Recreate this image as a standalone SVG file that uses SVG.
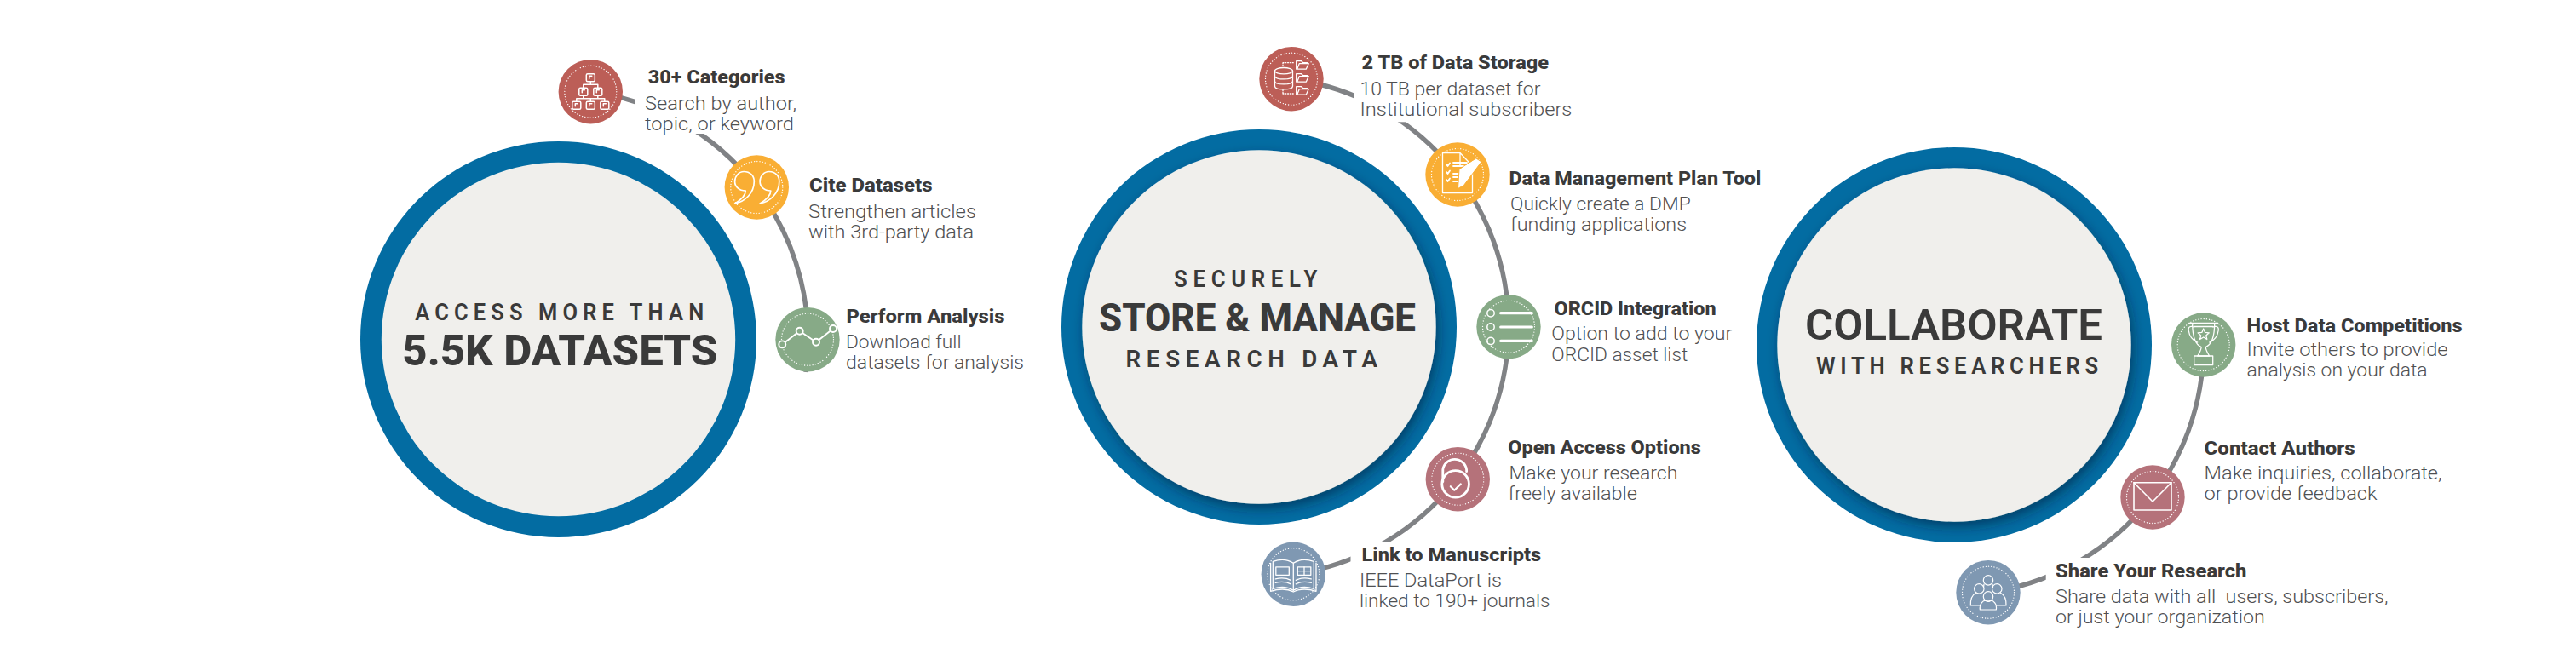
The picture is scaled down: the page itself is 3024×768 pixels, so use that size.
<svg xmlns="http://www.w3.org/2000/svg" width="3024" height="768" viewBox="0 0 3024 768">
<style>
text{font-family:Roboto,"Liberation Sans",sans-serif;white-space:pre}
.t{font-size:22px;font-weight:800;fill:#3a3a3a}
.s{font-size:22px;font-weight:300;fill:#4f5052}
.h{font-weight:600;fill:#3a3a3a;font-size:27px}
.b{font-weight:800;fill:#3a3a3a;font-size:50px}
.ring{fill:#036ca2}
.core{fill:#f0efec}
.dot{fill:none;stroke:#fff;stroke-width:1.3;stroke-linecap:round;stroke-dasharray:.1 3.1}
.i{fill:none;stroke:#fff;stroke-width:1.5;stroke-linejoin:round;stroke-linecap:round}
.arc{fill:none;stroke:#808285;stroke-width:5.5}
.mask{fill:#fff}
.red{fill:#bc5e57}.yel{fill:#f9ae34}.grn{fill:#87aa87}.ros{fill:#b5727a}.blu{fill:#7f98b2}
</style>
<defs>
<filter id="sh" x="-20%" y="-20%" width="140%" height="140%"><feDropShadow dx="3" dy="6" stdDeviation="7" flood-color="#00213a" flood-opacity=".55"/></filter>
<g id="tree" class="i" stroke-width="1.2">
<rect x="-5" y="-21" width="10" height="9" rx="1.5"/><rect x="-13.5" y="-4.5" width="10" height="9" rx="1.5"/><rect x="3.5" y="-4.5" width="10" height="9" rx="1.5"/>
<rect x="-21.5" y="11.5" width="10" height="9" rx="1.5"/><rect x="-5" y="11.5" width="10" height="9" rx="1.5"/><rect x="11.5" y="11.5" width="10" height="9" rx="1.5"/>
<path d="M0-12V-8.500M-8.500-4.500V-8.500H8.500V-4.500M-8.500 4.500V8H8.500V4.500M0 8V11.500M-16.500 11.500V8H16.500V11.500"/>
<path d="M-1.500-18.500H1.500M-1.500-18.500V-15.500M-10-2H-7M-10-2V1M7-2H10M7-2V1M-18 14H-15M-18 14V17M-1.500 14H1.500M-1.500 14V17M15 14H18M15 14V17"/>
</g>
<path id="q" d="M-25.700 19C-14 17-3 7-3-7C-3-14-8-18.500-15-18.500C-21-18.500-25.700-13-25.700-7C-25.700-.5-20.500 4-13 4C-13 9-19 15-25.700 19Z"/>
<g id="quotes" class="i" style="stroke-width:1.7"><use href="#q"/><use href="#q" x="29.500"/></g>
<g id="chart" class="i" style="stroke-width:1.9"><path d="M-29.700 5.700L-9.300-10L10 3L30-12.700"/><g style="fill:#87aa87"><circle cx="-29.700" cy="5.700" r="4"/><circle cx="-9.300" cy="-10" r="4"/><circle cx="10" cy="3" r="4"/><circle cx="30" cy="-12.700" r="4"/></g></g>
<g id="fold"><path d="M-7-5H-1L1-3H6M-7-5V4.500H4.500L7.500-2H-3.500L-6 4.500"/></g>
<g id="db" class="i" style="stroke-width:1.3">
<ellipse cx="-9" cy="-9.500" rx="10.500" ry="3.700"/><path d="M-19.500-9.500V8.500C-19.500 13.500 1.500 13.500 1.500 8.500V-9.500M-19.500-3.500C-19.500 1.500 1.500 1.500 1.500-3.500M-19.500 2.500C-19.500 7.500 1.500 7.500 1.500 2.500"/>
<use href="#fold" x="12.700" y="-16"/><use href="#fold" x="12.700" y="-1"/><use href="#fold" x="12.700" y="14"/>
<path stroke-dasharray="1 1.800" d="M-10-19H3M-10-19V-14M-10 17.300H3M-10 13V17.300"/>
</g>
<g id="doc" class="i" style="stroke-width:1.3">
<path d="M-17.500-25.500H3L17.500-10V21.500H-17.500ZM3-25.500V-10H17.500"/>
<path style="stroke-width:1.8" d="M-13-12L-11.500-10L-9-13.500M-13-3L-11.500-1L-9-4.500M-13 6L-11.500 8L-9 4.500M-5-14H11M-5-10H9M-5-1H5M-5 3H3M-5 8H0"/>
<path style="fill:#fff;stroke:#f9ae34;stroke-width:1" d="M22-19L28-15L7.500 12.500L.5 16.500L2-6Z"/>
</g>
<g id="list" class="i">
<g style="stroke-width:1.5"><circle cx="-21" cy="-16" r="4.200"/><circle cx="-21" cy=".3" r="4.200"/><circle cx="-21" cy="16.700" r="4.200"/></g>
<path style="stroke-width:3.200" d="M-9.300-16H27.300M-9.300 .3H27.300M-9.300 16.700H27.300"/>
</g>
<g id="lock" class="i">
<circle cx="-2.700" cy="5.700" r="15.800" style="stroke-width:2.800"/>
<path style="stroke-width:2.800" d="M-17.500 3V-11A14 14 0 0 1 10.300-11V-9"/>
<path style="stroke-width:2.200" d="M-8.500 8.500L-4 13L3.500 5.700"/>
</g>
<g id="book" class="i" style="stroke-width:1.300">
<path d="M-24-15C-15-18-6-17 0-13C6-17 15-18 24-15V17C15 14 6 15 0 19C-6 15-15 14-24 17Z"/>
<path d="M-26.700-13V20C-17 17-7 17 0 20.700C7 17 17 17 26.700 20V-13M0-13V19"/>
<rect x="-20.500" y="-8.500" width="15.500" height="9.500"/><rect x="5" y="-8.500" width="15.500" height="9.500"/>
<path d="M12.700-8.500V1M5-3.700H20.500M-21 5.500C-14 4-8 4.500-3 7M-21 10C-14 8.500-8 9-3 11.500M21 5.500C14 4 8 4.500 3 7M21 10C14 8.500 8 9 3 11.500"/>
</g>
<g id="trophy" class="i" style="stroke-width:1.300">
<path d="M-17-25.500H17M-13-25.500C-13-8-9 0-2.500 2.500C-3 7-5 10-7 13M13-25.500C13-8 9 0 2.500 2.500C3 7 5 10 7 13M-7 13H7M-11-21C-11-21-18.500-24-17.500-17C-16.500-10-12-5-7-3M11-21C11-21 18.500-24 17.500-17C16.500-10 12-5 7-3M-11-21.500H11"/>
<rect x="-11" y="13" width="22" height="10.500"/>
<path d="M0-19L1.900-14.600L6.600-14.200L3-11.100L4.100-6.500L0-9L-4.100-6.500L-3-11.100L-6.600-14.200L-1.900-14.600Z"/>
</g>
<g id="mail" class="i" style="stroke-width:1.600"><rect x="-22" y="-17.300" width="44" height="32.300"/><path d="M-22-17.300L0 5L22-17.300"/></g>
<g id="people" class="i" style="stroke-width:1.200">
<circle cx="0" cy="-14.300" r="5.700"/><circle cx="-10.700" cy="-4.300" r="5.700"/><circle cx="10.300" cy="-4.300" r="5.700"/><circle cx="0" cy="4.700" r="5.700"/>
<path d="M-9.700 20.300C-10.500 13-6 9.500-3 9.500C-1 11 1 11 3 9.500C6 9.500 10.500 13 9.300 20.300Z"/>
<path d="M-9.700 15.300H-20.700C-21 9-19 3-14.500 .5M9.700 15.300H21C21.300 9 19 3 14.500 .5M-5 -9.500L-5.500-6M5-9.500L5.500-6"/>
</g>
</defs>

<g id="connectors">
<path class="arc" d="M693.300 107.700A293.500 293.500 0 0 1 946 437"/>
<path class="arc" d="M1516 92.700A293.500 293.500 0 0 1 1518.300 674.300"/>
<path class="arc" d="M2586.700 405A293 293 0 0 1 2334 695.700"/>
</g>

<g id="hub-access">
<circle class="ring" cx="655.500" cy="398.500" r="232.500"/><circle class="core" cx="655.500" cy="398.500" r="207.700"/>
<text class="h" x="487.300" y="375.500" letter-spacing="6.500" textLength="345" lengthAdjust="spacingAndGlyphs">ACCESS MORE THAN</text>
<text class="b" x="472.300" y="428.500" textLength="370" lengthAdjust="spacingAndGlyphs">5.5K DATASETS</text>
</g>
<g id="hub-store">
<circle class="ring" cx="1478" cy="384" r="232"/><circle class="core" cx="1478" cy="384" r="207.700" filter="url(#sh)"/>
<text class="h" x="1378" y="336.700" letter-spacing="7" textLength="175" lengthAdjust="spacingAndGlyphs">SECURELY</text>
<text class="b" x="1290" y="389" style="font-size:46px" textLength="372" lengthAdjust="spacingAndGlyphs">STORE &amp; MANAGE</text>
<text class="h" x="1321.600" y="430.700" letter-spacing="6.500" textLength="302" lengthAdjust="spacingAndGlyphs">RESEARCH DATA</text>
</g>
<g id="hub-collab">
<circle class="ring" cx="2294" cy="405" r="232"/><circle class="core" cx="2294" cy="405" r="207.700" filter="url(#sh)"/>
<text class="b" x="2119" y="399" style="font-weight:600" textLength="349" lengthAdjust="spacingAndGlyphs">COLLABORATE</text>
<text class="h" x="2132" y="439" letter-spacing="6" textLength="337" lengthAdjust="spacingAndGlyphs">WITH RESEARCHERS</text>
</g>

<g id="n-categories">
<rect class="mask" x="746" y="60" width="260" height="97"/>
<circle class="red" cx="693.300" cy="107.700" r="37.700"/><circle class="dot" cx="693.300" cy="107.700" r="30.500"/><use href="#tree" x="693.300" y="107.700"/>
<text class="t" x="760.700" y="98" textLength="161" lengthAdjust="spacingAndGlyphs">30+ Categories</text>
<text class="s" x="757" y="129" textLength="178" lengthAdjust="spacingAndGlyphs">Search by author,</text>
<text class="s" x="757" y="152.500" textLength="175" lengthAdjust="spacingAndGlyphs">topic, or keyword</text>
</g>
<g id="n-cite">
<circle class="yel" cx="888.300" cy="220" r="37.700"/><circle class="dot" cx="888.300" cy="220" r="30.500"/><use href="#quotes" x="888.300" y="220"/>
<text class="t" x="950" y="225" textLength="144.600" lengthAdjust="spacingAndGlyphs">Cite Datasets</text>
<text class="s" x="949" y="255.700" textLength="197" lengthAdjust="spacingAndGlyphs">Strengthen articles</text>
<text class="s" x="949" y="279.700" textLength="194" lengthAdjust="spacingAndGlyphs">with 3rd-party data</text>
</g>
<g id="n-analysis">
<circle class="grn" cx="948" cy="398.700" r="37.700"/><circle class="dot" cx="948" cy="398.700" r="30.500"/><use href="#chart" x="948" y="398.700"/>
<text class="t" x="993.500" y="379" textLength="186" lengthAdjust="spacingAndGlyphs">Perform Analysis</text>
<text class="s" x="993" y="409" textLength="135.500" lengthAdjust="spacingAndGlyphs">Download full</text>
<text class="s" x="993" y="433" textLength="209" lengthAdjust="spacingAndGlyphs">datasets for analysis</text>
</g>

<g id="n-storage">
<rect class="mask" x="1589" y="30" width="270" height="113.300"/>
<circle class="red" cx="1516" cy="92.700" r="37.700"/><circle class="dot" cx="1516" cy="92.700" r="30.500"/><use href="#db" x="1516" y="92.700"/>
<text class="t" x="1598.600" y="80.700" textLength="219.400" lengthAdjust="spacingAndGlyphs">2 TB of Data Storage</text>
<text class="s" x="1596.400" y="111.700" textLength="212" lengthAdjust="spacingAndGlyphs">10 TB per dataset for</text>
<text class="s" x="1596.400" y="135.700" textLength="249" lengthAdjust="spacingAndGlyphs">Institutional subscribers</text>
</g>
<g id="n-dmp">
<circle class="yel" cx="1711" cy="205" r="37.700"/><circle class="dot" cx="1711" cy="205" r="30.500"/><use href="#doc" x="1711" y="205"/>
<text class="t" x="1771.400" y="216.700" textLength="296" lengthAdjust="spacingAndGlyphs">Data Management Plan Tool</text>
<text class="s" x="1773" y="246.700" textLength="211.700" lengthAdjust="spacingAndGlyphs">Quickly create a DMP</text>
<text class="s" x="1773" y="271" textLength="207" lengthAdjust="spacingAndGlyphs">funding applications</text>
</g>
<g id="n-orcid">
<circle class="grn" cx="1771" cy="383.700" r="37.700"/><circle class="dot" cx="1771" cy="383.700" r="30.500"/><use href="#list" x="1771" y="383.700"/>
<text class="t" x="1824.600" y="370" textLength="190" lengthAdjust="spacingAndGlyphs">ORCID Integration</text>
<text class="s" x="1821.300" y="399.300" textLength="212" lengthAdjust="spacingAndGlyphs">Option to add to your</text>
<text class="s" x="1821.300" y="424" textLength="160" lengthAdjust="spacingAndGlyphs">ORCID asset list</text>
</g>
<g id="n-open">
<circle class="ros" cx="1711.300" cy="562.700" r="37.700"/><circle class="dot" cx="1711.300" cy="562.700" r="30.500"/><use href="#lock" x="1711.300" y="562.700"/>
<text class="t" x="1770.300" y="533.300" textLength="226.600" lengthAdjust="spacingAndGlyphs">Open Access Options</text>
<text class="s" x="1771.400" y="562.700" textLength="198" lengthAdjust="spacingAndGlyphs">Make your research</text>
<text class="s" x="1770.500" y="586.700" textLength="151.500" lengthAdjust="spacingAndGlyphs">freely available</text>
</g>
<g id="n-manuscripts">
<rect class="mask" x="1585.500" y="636.700" width="240" height="90"/>
<circle class="blu" cx="1518.300" cy="674.300" r="37.700"/><circle class="dot" cx="1518.300" cy="674.300" r="30.500"/><use href="#book" x="1518.300" y="674.300"/>
<text class="t" x="1598.600" y="659.300" textLength="210.600" lengthAdjust="spacingAndGlyphs">Link to Manuscripts</text>
<text class="s" x="1595.900" y="689.300" textLength="167" lengthAdjust="spacingAndGlyphs">IEEE DataPort is</text>
<text class="s" x="1595.900" y="713.300" textLength="223.700" lengthAdjust="spacingAndGlyphs">linked to 190+ journals</text>
</g>

<g id="n-competitions">
<circle class="grn" cx="2586.700" cy="405" r="37.700"/><circle class="dot" cx="2586.700" cy="405" r="30.500"/><use href="#trophy" x="2586.700" y="405"/>
<text class="t" x="2637.600" y="389.800" textLength="253" lengthAdjust="spacingAndGlyphs">Host Data Competitions</text>
<text class="s" x="2637.600" y="417.800" textLength="236" lengthAdjust="spacingAndGlyphs">Invite others to provide</text>
<text class="s" x="2637.600" y="442" textLength="212" lengthAdjust="spacingAndGlyphs">analysis on your data</text>
</g>
<g id="n-contact">
<circle class="ros" cx="2527" cy="584" r="37.700"/><circle class="dot" cx="2527" cy="584" r="30.500"/><use href="#mail" x="2527" y="584"/>
<text class="t" x="2587.600" y="533.600" textLength="177" lengthAdjust="spacingAndGlyphs">Contact Authors</text>
<text class="s" x="2587.600" y="563" textLength="279" lengthAdjust="spacingAndGlyphs">Make inquiries, collaborate,</text>
<text class="s" x="2587.600" y="587" textLength="203" lengthAdjust="spacingAndGlyphs">or provide feedback</text>
</g>
<g id="n-share">
<rect class="mask" x="2401.700" y="655" width="410" height="90"/>
<circle class="blu" cx="2334" cy="695.700" r="37.700"/><circle class="dot" cx="2334" cy="695.700" r="30.500"/><use href="#people" x="2334" y="695.700"/>
<text class="t" x="2413" y="678" textLength="224.500" lengthAdjust="spacingAndGlyphs">Share Your Research</text>
<text class="s" x="2413" y="707.700" textLength="390.500" lengthAdjust="spacingAndGlyphs">Share data with all  users, subscribers,</text>
<text class="s" x="2413" y="731.700" textLength="245.800" lengthAdjust="spacingAndGlyphs">or just your organization</text>
</g>
</svg>
